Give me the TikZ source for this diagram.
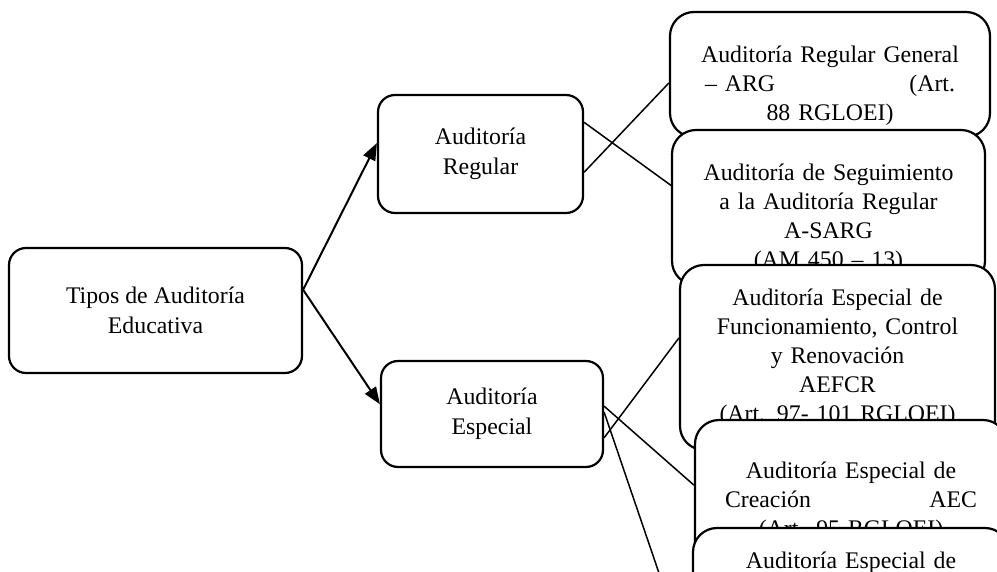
\documentclass[tikz,border=0pt]{standalone}
\usepackage{fontspec}
\setmainfont{Liberation Serif}
\usetikzlibrary{positioning,arrows.meta}

\newcommand{\spreadline}[2]{\makebox[#1]{#2}}

\begin{document}
\begin{tikzpicture}[x=1pt,y=-1pt,
    leftbox/.style={draw, line width=2.2pt, rounded corners=17pt, fill=white, align=center,
        font=\fontsize{23.8}{30.5}\selectfont},
    rightbox/.style={draw, line width=2.2pt, rounded corners=24pt, fill=white, inner sep=0pt},
    boxtext/.style={inner sep=0pt, text width=290pt, align=center,
        font=\fontsize{23.8}{29}\selectfont, execute at begin node=\strut},
    arrowline/.style={line width=2pt, -{Triangle[length=17pt,width=13pt]}},
    branch/.style={line width=1.5pt}]

    \useasboundingbox (0,0) rectangle (997,572);
    \clip (0,0) rectangle (997,572);

    % left column
    \node[leftbox, minimum width=293pt, minimum height=125pt] (root) at (155.5,310.5) {Tipos de Auditoría\\ Educativa};
    \node[leftbox, minimum width=205pt, minimum height=118pt] (reg) at (480.5,154) {Auditoría\\ Regular};
    \node[leftbox, minimum width=222pt, minimum height=106pt] (esp) at (492,414) {Auditoría\\ Especial};

    % regular branch boxes
    \node[rightbox, minimum width=320pt, minimum height=125pt] (arg) at (830,74.5) {};
    \node[boxtext, below=31pt of arg.north] (argtext) {Auditoría Regular General\\
        \spreadline{250pt}{--~ARG\hfill(Art.}\\ 88 RGLOEI)};
    \node[rightbox, minimum width=313pt, minimum height=155pt] (sarg) at (828.5,207.5) {};
    \node[boxtext, below=31pt of sarg.north] (sargtext) {Auditoría de Seguimiento\\
        a la Auditoría Regular\\ A-SARG\\ (AM 450 -- 13)};

    % special branch boxes
    \node[rightbox, minimum width=315pt, minimum height=185pt] (aefcr) at (837.5,357.5) {};
    \node[boxtext, below=21pt of aefcr.north] (aefcrtext) {Auditoría Especial de\\
        Funcionamiento, Control\\ y Renovación\\ AEFCR\\ (Art. 97- 101 RGLOEI)};
    \node[rightbox, minimum width=312pt, minimum height=180pt] (aec) at (851,510) {};
    \node[boxtext, below=39pt of aec.north] (aectext) {Auditoría Especial de\\
        \spreadline{252pt}{Creación\hfill AEC}\\ (Art. 95 RGLOEI)};
    \node[rightbox, minimum width=316pt, minimum height=192pt] (aenext) at (851,624) {};
    \node[boxtext, below=21pt of aenext.north] (aenexttext) {Auditoría Especial de};

    % arrows from the root
    \draw[arrowline] (root.8) -- (reg.174);
    \draw[arrowline] (root.8) -- (esp.175);

    % plain links to the right column
    \draw[branch] (reg.17) -- (sarg.172);
    \draw[branch] (reg.-10) -- (arg.183);
    \draw[branch] (esp.-12) -- (aefcr.173);
    \draw[branch] (esp.4) -- (aec.171);
    \draw[branch] (esp.1) -- (aenext.196);
\end{tikzpicture}
\end{document}
